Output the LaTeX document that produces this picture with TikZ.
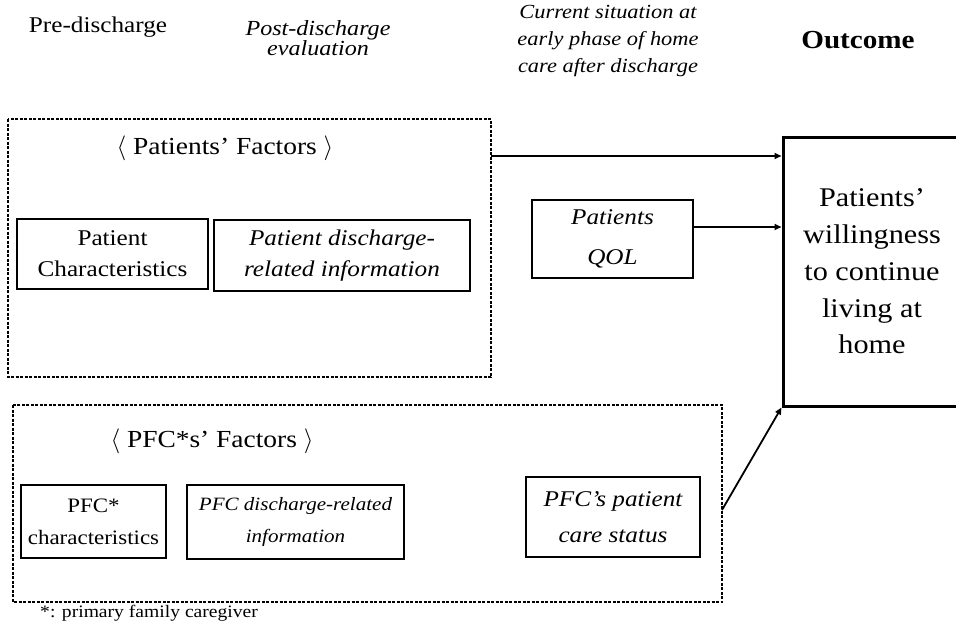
\documentclass[tikz,border=0pt]{standalone}
\usepackage{fontspec}
\setmainfont{Liberation Serif}[FakeStretch=1.12]
\usetikzlibrary{arrows.meta}
\tikzset{
  factorbox/.style={draw, line width=1.1pt, align=center, inner sep=0pt},
  groupbox/.style={draw, line width=1.2pt, dash pattern=on 3pt off 1.5pt},
  link/.style={line width=1.8pt, -{Triangle[length=7pt,width=6pt]}},
  header/.style={align=center, inner sep=0pt},
  grouptitle/.style={inner sep=0pt, font=\fontsize{24.5}{30}\selectfont},
}
\begin{document}
\begin{tikzpicture}[x=1pt,y=-1pt]
\useasboundingbox (0,0) rectangle (956,624);
% headers
\node[header, font=\fontsize{22.5}{24}\selectfont] (h1) at (98,27) {Pre-discharge};
\node[header, font=\fontsize{21.5}{19}\selectfont\itshape] (h2) at (318,38) {Post-discharge\\evaluation};
\node[header, font=\fontsize{20}{27}\selectfont\itshape] (h3) at (608,41) {Current situation at\\early phase of home\\care after discharge};
\node[header, font=\fontsize{26}{28}\selectfont\bfseries] (h4) at (858,40) {Outcome};
% group boxes
\draw[groupbox] (8,119) rectangle (491,377);
\coordinate (pfTR) at (491,156);
\draw[groupbox] (13,405) rectangle (722,602);
\coordinate (pfcR) at (722,510);
\node[grouptitle] (pt) at (225,148) {$\langle$\;Patients' Factors\;$\rangle$};
\node[grouptitle] (ft) at (212,441) {$\langle$\;PFC*s' Factors\;$\rangle$};
% inner boxes
\node[factorbox, minimum width=191pt, minimum height=70pt, font=\fontsize{22.5}{31}\selectfont] (pc) at (112.5,254) {Patient\\Characteristics};
\node[factorbox, minimum width=256pt, minimum height=71pt, font=\fontsize{22.5}{31}\selectfont\itshape] (pd) at (342,255.5) {Patient discharge-\\related information};
\node[factorbox, minimum width=161pt, minimum height=78pt, font=\fontsize{22.5}{40}\selectfont\itshape] (qol) at (612.5,239) {Patients\\QOL};
\node[factorbox, minimum width=145pt, minimum height=73pt, font=\fontsize{20.5}{32}\selectfont] (fc) at (93.5,521.5) {PFC*\\characteristics};
\node[factorbox, minimum width=217pt, minimum height=74pt, font=\fontsize{18.8}{32}\selectfont\itshape] (fd) at (295.5,522) {PFC discharge-related\\information};
\node[factorbox, minimum width=174pt, minimum height=80pt, font=\fontsize{22.5}{36}\selectfont\itshape] (fs) at (613,517) {PFC's patient\\care status};
\node[draw, line width=3pt, align=center, inner sep=0pt, minimum width=178pt, minimum height=269pt, font=\fontsize{27}{36.7}\selectfont] (out) at (872,271.5) {Patients'\\willingness\\to continue\\living at\\home};
% connectors
\draw[link] (pfTR) -- (pfTR -| out.west);
\coordinate (qolR) at (qol.east |- 0,227);
\draw[link] (qolR) -- (qolR -| out.west);
\draw[link] (pfcR) -- (out.south west);
% footnote
\node[anchor=west, inner sep=0pt, font=\fontsize{17.5}{20}\selectfont] (fn) at (40,613) {*: primary family caregiver};
\end{tikzpicture}
\end{document}
